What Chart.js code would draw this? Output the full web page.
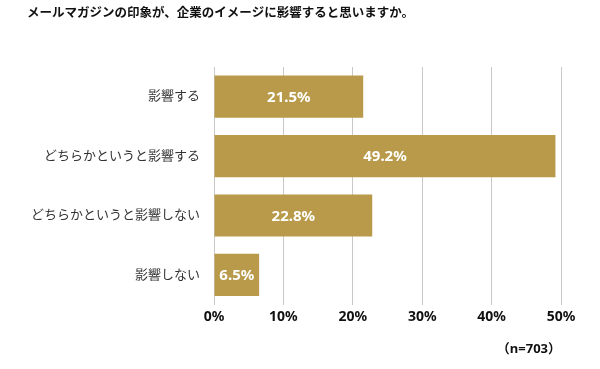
<!DOCTYPE html>
<html>
<head>
<meta charset="utf-8">
<script src="https://cdn.jsdelivr.net/npm/chart.js@4/dist/chart.umd.min.js"></script>
<style>
  html, body { margin: 0; padding: 0; background: #fff; }
  #wrap { width: 600px; height: 369px; position: relative; }
</style>
</head>
<body>
<div id="wrap"><canvas id="chart"></canvas></div>
<script>
// データ
const titleText = 'メールマガジンの印象が、企業のイメージに影響すると思いますか。';
const categories = ['影響する', 'どちらかというと影響する', 'どちらかというと影響しない', '影響しない'];
const values = [21.5, 49.2, 22.8, 6.5];
const xTicks = [0, 10, 20, 30, 40, 50];
const sampleNote = '（n=703）';

const FONT = '"Noto Sans", "Noto Sans CJK JP", sans-serif';
const BAR_COLOR = '#B89A4A';

// バーの中央に値を描く
const barValueLabels = {
    id: 'barValueLabels',
    afterDatasetsDraw(chart) {
        const ctx = chart.ctx;
        const meta = chart.getDatasetMeta(0);
        ctx.save();
        ctx.fillStyle = '#ffffff';
        ctx.font = 'bold 15px ' + FONT;
        ctx.textAlign = 'center';
        ctx.textBaseline = 'middle';
        meta.data.forEach((bar, i) => {
            const p = bar.getProps(['x', 'y', 'base'], true);
            ctx.fillText(values[i].toFixed(1) + '%', (p.x + p.base) / 2, p.y + 1);
        });
        ctx.restore();
    }
};

new Chart(document.getElementById('chart'), {
    type: 'bar',
    data: {
        labels: categories,
        datasets: [{
            data: values,
            backgroundColor: BAR_COLOR,
            borderWidth: 0,
            barPercentage: 0.71,
            categoryPercentage: 1.0
        }]
    },
    options: {
        indexAxis: 'y',
        responsive: true,
        maintainAspectRatio: false,
        animation: false,
        layout: { padding: { left: 27, right: 39, top: 0, bottom: 12 } },
        plugins: {
            legend: { display: false },
            tooltip: { enabled: false },
            title: {
                display: true,
                text: titleText,
                align: 'start',
                color: '#111',
                font: { family: FONT, size: 12.5, weight: 'bold' },
                padding: { top: 6, bottom: 46 }
            }
        },
        scales: {
            x: {
                min: 0,
                max: 50,
                afterBuildTicks(scale) {
                    scale.ticks = xTicks.map(v => ({ value: v }));
                },
                ticks: {
                    padding: 4,
                    color: '#111',
                    font: { family: FONT, size: 14, weight: 'bold' },
                    callback: v => v + '%'
                },
                grid: { color: '#C8C8C8', lineWidth: 1, drawTicks: false },
                border: { display: false },
                title: {
                    display: true,
                    text: sampleNote,
                    align: 'end',
                    color: '#111',
                    font: { family: FONT, size: 13, weight: 'bold' },
                    padding: { top: 12, bottom: 0 }
                }
            },
            y: {
                afterFit(scale) { scale.width = 187; },
                ticks: {
                    padding: 6,
                    color: '#333',
                    font: { family: FONT, size: 13 }
                },
                grid: { display: false },
                border: { display: false }
            }
        }
    },
    plugins: [barValueLabels]
});
</script>
</body>
</html>
